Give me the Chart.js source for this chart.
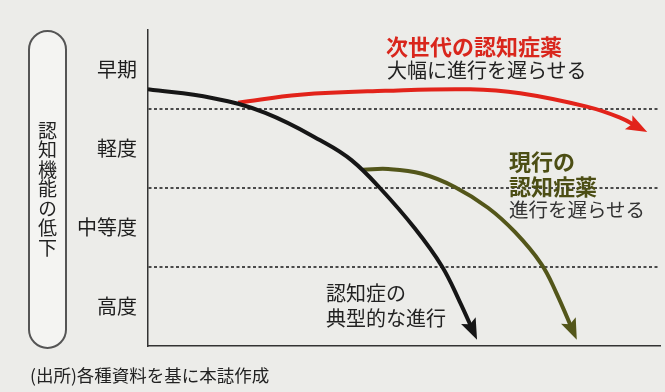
<!DOCTYPE html>
<html lang="ja">
<head>
<meta charset="utf-8">
<script src="https://cdn.jsdelivr.net/npm/chart.js@4.4.1/dist/chart.umd.min.js"></script>
<style>
  html, body { margin: 0; padding: 0; background: #ecece9; }
  #wrap { position: relative; width: 665px; height: 392px; overflow: hidden;
          font-family: "Noto Sans CJK JP", "Noto Sans", sans-serif; color: #222; }
  #wrap canvas { position: absolute; left: 0; top: 0; }
  .pill { position: absolute; left: 28px; top: 30px; width: 35px; height: 315px;
          border: 2px solid #555; border-radius: 20px; background: #f4f4f2;
          display: flex; align-items: center; justify-content: center; }
  .pill span { writing-mode: vertical-rl; text-orientation: upright; font-size: 19px;
               line-height: 1; letter-spacing: 0.5px; color: #222; }
  .note { position: absolute; white-space: nowrap; line-height: 24px; }
</style>
</head>
<body>
<div id="wrap">
  <canvas id="declineChart" width="665" height="392"></canvas>
  <div class="pill"><span>認知機能の低下</span></div>
  <div class="note" style="left:386px; top:33px; font-size:22px; font-weight:bold; color:#d9261c;">次世代の認知症薬</div>
  <div class="note" style="left:387px; top:58px; font-size:20px; color:#222;">大幅に進行を遅らせる</div>
  <div class="note" style="left:509px; top:148px; font-size:22px; font-weight:bold; color:#4c4e14;">現行の</div>
  <div class="note" style="left:509px; top:173px; font-size:22px; font-weight:bold; color:#4c4e14;">認知症薬</div>
  <div class="note" style="left:509px; top:197px; font-size:19.5px; color:#333;">進行を遅らせる</div>
  <div class="note" style="left:326px; top:281px; font-size:20px; color:#222;">認知症の</div>
  <div class="note" style="left:326px; top:306px; font-size:20px; color:#222;">典型的な進行</div>
  <div class="note" style="left:30px; top:363px; font-size:17.5px; color:#222;">(出所)各種資料を基に本誌作成</div>
</div>
<script>
// stage labels, bottom to top
const levels = ['高度', '中等度', '軽度', '早期'];

// typical progression (black)
const typicalX = [0, 12.5, 22.9, 34.6, 39.8, 45.3, 52.1, 57.4, 60.9, 63.7];
const typicalY = [3.25, 3.14, 2.95, 2.57, 2.35, 2.00, 1.49, 1.01, 0.56, 0.16];

// current drugs (olive)
const currentX = [42.0, 46.9, 53.5, 60.0, 66.4, 71.7, 76.8, 79.7, 83.2];
const currentY = [2.23, 2.24, 2.18, 2.01, 1.75, 1.44, 1.04, 0.68, 0.16];

// next generation drugs (red)
const nextX = [17.6, 29.7, 46.3, 62.9, 72.7, 85.7, 92.2, 96.3];
const nextY = [3.08, 3.18, 3.23, 3.25, 3.20, 3.03, 2.89, 2.75];

function pts(xs, ys) {
  return xs.map((x, i) => ({ x: x, y: ys[i] }));
}

// arrow heads at the end of each curve
const arrowHeads = {
  id: 'arrowHeads',
  afterDatasetsDraw(chart) {
    const ctx = chart.ctx;
    chart.data.datasets.forEach((ds, i) => {
      const meta = chart.getDatasetMeta(i);
      const n = meta.data.length;
      const last = meta.data[n - 1];
      let bx = last.cp1x, by = last.cp1y;
      if (bx === undefined || (Math.abs(bx - last.x) < 0.5 && Math.abs(by - last.y) < 0.5)) {
        bx = meta.data[n - 2].x; by = meta.data[n - 2].y;
      }
      let dx = last.x - bx, dy = last.y - by;
      const len = Math.hypot(dx, dy);
      dx /= len; dy /= len;
      const tipX = last.x + dx * 7, tipY = last.y + dy * 7;
      const L = 21, W = 8;
      const baseX = tipX - dx * L, baseY = tipY - dy * L;
      ctx.save();
      ctx.fillStyle = ds.borderColor;
      ctx.beginPath();
      ctx.moveTo(tipX, tipY);
      ctx.lineTo(baseX - dy * W, baseY + dx * W);
      ctx.lineTo(baseX + dx * 4, baseY + dy * 4);
      ctx.lineTo(baseX + dy * W, baseY - dx * W);
      ctx.closePath();
      ctx.fill();
      ctx.restore();
    });
  }
};

const ctx = document.getElementById('declineChart').getContext('2d');
const declineChart = new Chart(ctx, {
  type: 'line',
  data: {
    datasets: [
      {
        label: '認知症の典型的な進行',
        data: pts(typicalX, typicalY),
        borderColor: '#161616',
        borderWidth: 4,
        tension: 0.4,
        pointRadius: 0,
        fill: false
      },
      {
        label: '現行の認知症薬',
        data: pts(currentX, currentY),
        borderColor: '#53561a',
        borderWidth: 4,
        tension: 0.4,
        pointRadius: 0,
        fill: false
      },
      {
        label: '次世代の認知症薬',
        data: pts(nextX, nextY),
        borderColor: '#e2231a',
        borderWidth: 4,
        tension: 0.4,
        pointRadius: 0,
        fill: false
      }
    ]
  },
  options: {
    responsive: false,
    animation: false,
    layout: { padding: { top: 30, right: 5, bottom: 46, left: 0 } },
    plugins: {
      legend: { display: false },
      tooltip: { enabled: false }
    },
    scales: {
      x: {
        type: 'linear',
        min: 0,
        max: 100,
        grid: { display: false },
        ticks: { display: false },
        border: { display: true, color: '#333', width: 1.5 },
        afterFit(scale) { scale.height = 0; }
      },
      y: {
        type: 'linear',
        min: 0,
        max: 4,
        afterBuildTicks(axis) {
          axis.ticks = [0.5, 1, 1.5, 2, 2.5, 3, 3.5].map(v => ({ value: v }));
        },
        afterFit(scale) { scale.width = 148; },
        ticks: {
          padding: 11,
          color: '#1e1e1e',
          font: { family: '"Noto Sans CJK JP", sans-serif', size: 20 },
          callback(value) {
            return Number.isInteger(value) ? '' : levels[Math.floor(value)];
          }
        },
        grid: {
          drawTicks: false,
          lineWidth: 2,
          color(c) {
            return c.tick && Number.isInteger(c.tick.value) ? '#4a4a4a' : 'rgba(0,0,0,0)';
          }
        },
        border: { display: true, color: '#333', width: 1.5, dash: [3, 2.5] }
      }
    }
  },
  plugins: [arrowHeads]
});
</script>
</body>
</html>
